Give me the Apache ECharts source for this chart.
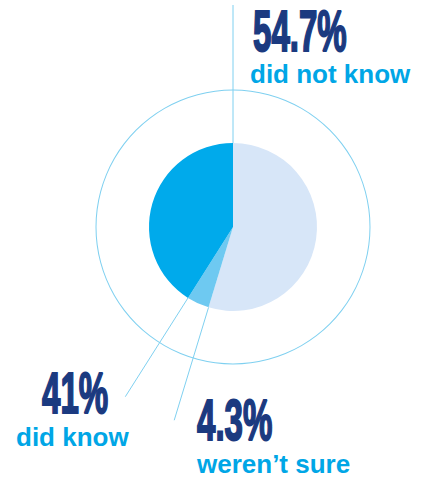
<!DOCTYPE html>
<html><head><meta charset="utf-8">
<script src="https://cdn.jsdelivr.net/npm/echarts@6/dist/echarts.min.js"></script>
<style>html,body{margin:0;padding:0;background:#fff}#c{width:427px;height:479px}</style>
</head><body><div id="c"></div>
<script>
const categories = ['did not know', 'weren\u2019t sure', 'did know'];
const values = [54.7, 4.3, 41];
const valueLabels = ['54.7%', '4.3%', '41%'];

const chart = echarts.init(document.getElementById('c'), null, {renderer: 'svg'});
const CX = 233, CY = 227, R = 84, RING = 137;
const sliceColors = ['#d7e6f8', '#6ec9f1', '#00aaeb'];
const leaderEnd = [222, 202, 201];
const lineColor = '#7fd0f0';

// start angle (in value units) of each slice
const starts = values.map((v, i) => values.slice(0, i).reduce((a, b) => a + b, 0));
const total = values.reduce((a, b) => a + b, 0);

const leaderSeries = starts.map((s, i) => ({
  type: 'line', coordinateSystem: 'polar', polarIndex: 0,
  data: [[R, s], [leaderEnd[i], s]],
  symbol: 'none', silent: true, z: 1,
  lineStyle: {color: lineColor, width: 1}
}));

// label layout (text annotations)
const numFont = 'bold 57px "Liberation Sans", Arial, sans-serif';
const subFont = 'bold 26px "Liberation Sans", Arial, sans-serif';
const labelPos = [
  {nx: 253, ny: 3, sx: 250, sy: 61},
  {nx: 197, ny: 392, sx: 197, sy: 451},
  {nx: 42, ny: 365, sx: 16, sy: 424}
];
const graphics = [];
labelPos.forEach((p, i) => {
  graphics.push({type: 'text', x: p.nx, y: p.ny, scaleX: 0.58, silent: true,
    style: {text: valueLabels[i], font: numFont, fill: '#1b3a80', textVerticalAlign: 'top',
      stroke: '#1b3a80', lineWidth: 2}});
  graphics.push({type: 'text', x: p.sx, y: p.sy, silent: true,
    style: {text: categories[i], font: subFont, fill: '#00a6e6', textVerticalAlign: 'top'}});
});

chart.setOption({
  animation: false,
  polar: {center: [CX, CY], radius: 222},
  angleAxis: {min: 0, max: total, startAngle: 90, clockwise: true, show: false},
  radiusAxis: {min: 0, max: 222, show: false},
  series: [
    {type: 'pie', center: [CX, CY], radius: [RING - 0.5, RING + 0.5], silent: true, z: 0,
      label: {show: false}, labelLine: {show: false},
      data: [{value: 1, itemStyle: {color: lineColor}}]},
    {type: 'pie', center: [CX, CY], radius: R, startAngle: 90, clockwise: true, silent: true, z: 2,
      label: {show: false}, labelLine: {show: false},
      data: values.map((v, i) => ({name: categories[i], value: v, itemStyle: {color: sliceColors[i]}}))},
    ...leaderSeries
  ],
  graphic: graphics
});
</script></body></html>
